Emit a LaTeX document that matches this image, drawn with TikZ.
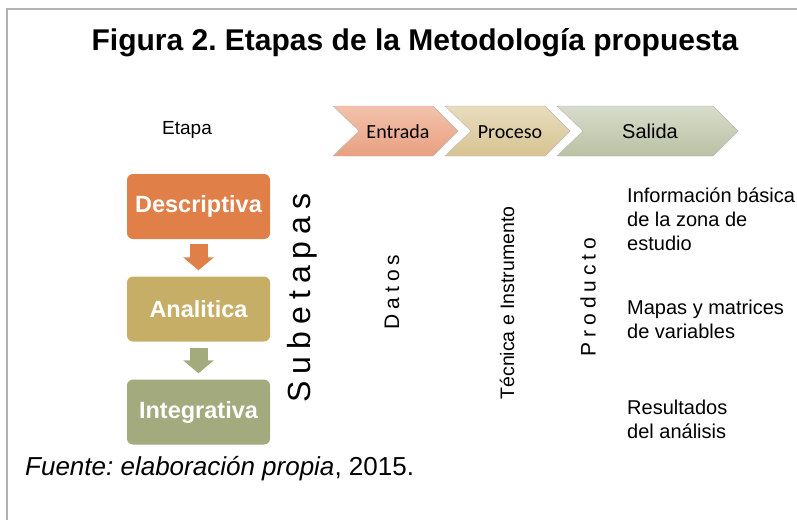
\documentclass[tikz,border=0pt]{standalone}
\usepackage{fontspec}
\setmainfont{Liberation Sans}
\newfontfamily\calib{Carlito}
\usetikzlibrary{arrows.meta,calc}
\frenchspacing

\definecolor{Tentrada}{RGB}{243,194,172}
\definecolor{Bentrada}{RGB}{232,160,128}
\definecolor{Tproceso}{RGB}{232,221,190}
\definecolor{Bproceso}{RGB}{215,195,144}
\definecolor{Tsalida}{RGB}{216,220,203}
\definecolor{Bsalida}{RGB}{186,193,163}
\definecolor{descOrange}{RGB}{224,128,72}
\definecolor{analGold}{RGB}{199,174,103}
\definecolor{integGreen}{RGB}{162,170,126}

\newcommand{\spreadtext}[2]{\spaceskip=#1\relax #2}

\begin{document}
\begin{tikzpicture}[x=1pt,y=-1pt,
  etapabox/.style={rounded corners=6pt,minimum width=143pt,minimum height=65pt,inner sep=0pt,
    text=white,font=\fontsize{23.5}{26}\selectfont\bfseries},
  flecha/.style={line width=18pt,-{Triangle[width=30pt,length=13pt]}},
  plain/.style={inner sep=0pt,font=\fontsize{#1}{24}\selectfont},
  spaced/.style={inner sep=0pt,rotate=90,font=\fontsize{#1}{#1}\selectfont}]
  \useasboundingbox (0,0) rectangle (797,520);
  \draw[black!30,line width=1.2pt] (7,520) -- (7,9) -- (797,9);
  \node[font=\fontsize{30}{33}\selectfont\bfseries] (title) at (415,43) {Figura 2. Etapas de la Metodología propuesta};
  \node[plain=19] (etapa) at (187,130) {Etapa};
  \foreach \xl/\xr/\nm in {333/458/entrada,445/570/proceso,557/738/salida}{
    \path[draw=black!28,top color=T\nm,bottom color=B\nm] (\xl,106) -- (\xr-25,106) -- (\xr,131)
      -- (\xr-25,156) -- (\xl,156) -- (\xl+26,131) -- cycle;
  }
  \node[plain=20] (entrada) at (398,132) {\calib Entrada};
  \node[plain=20] (proceso) at (510,132) {\calib Proceso};
  \node[plain=20] (salida) at (650,131) {Salida};
  \node[etapabox,fill=descOrange] (desc) at (198.5,206.5) {Descriptiva};
  \node[etapabox,fill=analGold] (anal) at (198.5,309) {Analitica};
  \node[etapabox,fill=integGreen] (integ) at (198.5,412) {Integrativa};
  \draw[flecha,descOrange] ($(desc.south)+(0,5)$) -- ($(anal.north)+(0,-6)$);
  \draw[flecha,integGreen] ($(anal.south)+(0,6)$) -- ($(integ.north)+(0,-6)$);
  \node[spaced=32] (subetapas) at (302,298) {\spreadtext{7pt}{S u b e t a p a s}};
  \node[spaced=21] (datos) at (392,292) {\spreadtext{5pt}{D a t o s}};
  \node[plain=19.5,rotate=90] (tecnica) at (507,303) {Técnica e Instrumento};
  \node[spaced=21] (producto) at (588,297) {\spreadtext{5pt}{P r o d u c t o}};
  \node[plain=20,anchor=west,align=left] (info) at (627,219) {Información básica\\de la zona de\\estudio};
  \node[plain=20,anchor=west,align=left] (mapas) at (627,319) {Mapas y matrices\\de variables};
  \node[plain=20,anchor=west,align=left] (result) at (627,419) {Resultados\\del análisis};
  \node[plain=26,anchor=west] (fuente) at (25,469) {\textit{Fuente: elaboración propia}, 2015.};
\end{tikzpicture}
\end{document}
